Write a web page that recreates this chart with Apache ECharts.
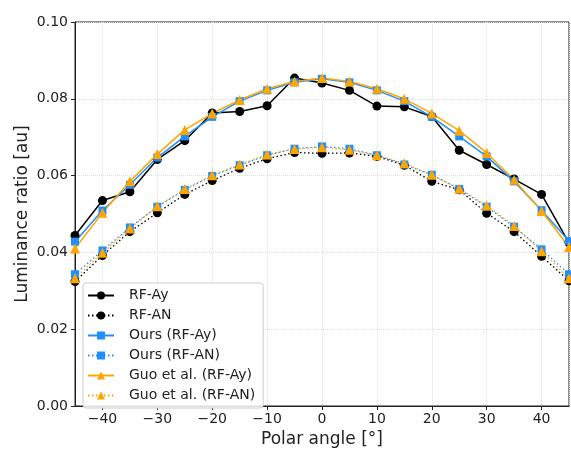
<!DOCTYPE html>
<html>
<head>
<meta charset="utf-8">
<script src="https://cdn.jsdelivr.net/npm/echarts@6/dist/echarts.min.js"></script>
<style>html,body{margin:0;padding:0;background:#fff;}#c{width:571px;height:453px;}</style>
</head>
<body>
<div id="c"></div>
<script>
const angles = [-45,-40,-35,-30,-25,-20,-15,-10,-5,0,5,10,15,20,25,30,35,40,45];
const rfAy   = [0.0444,0.0535,0.0558,0.0642,0.0691,0.0763,0.0767,0.0782,0.0854,0.0841,0.0822,0.0781,0.0779,0.0754,0.0666,0.0629,0.0591,0.0551,0.0425];
const rfAN   = [0.0324,0.0392,0.0454,0.0503,0.0551,0.0587,0.0619,0.0644,0.0660,0.0658,0.0659,0.0650,0.0627,0.0585,0.0563,0.0502,0.0454,0.0390,0.0326];
const oursAy = [0.0428,0.0509,0.0576,0.0647,0.0702,0.0753,0.0794,0.0822,0.0843,0.0852,0.0843,0.0822,0.0794,0.0753,0.0702,0.0650,0.0585,0.0510,0.0430];
const oursAN = [0.0343,0.0405,0.0465,0.0519,0.0563,0.0599,0.0627,0.0653,0.0670,0.0676,0.0670,0.0653,0.0629,0.0602,0.0565,0.0519,0.0467,0.0408,0.0343];
const guoAy  = [0.0410,0.0503,0.0585,0.0656,0.0719,0.0762,0.0797,0.0826,0.0845,0.0854,0.0845,0.0826,0.0800,0.0762,0.0717,0.0659,0.0589,0.0508,0.0414];
const guoAN  = [0.0333,0.0399,0.0462,0.0520,0.0565,0.0601,0.0629,0.0655,0.0669,0.0674,0.0667,0.0653,0.0632,0.0602,0.0566,0.0522,0.0469,0.0403,0.0333];
const yTicks = [0, 0.02, 0.04, 0.06, 0.08, 0.10];

const BLACK = '#000000', BLUE = '#1E8FFF', ORANGE = '#FFA500';
const FONT = 'DejaVu Sans';
function pair(xs, ys){ return xs.map((x,i)=>[x, ys[i]]); }
function mk(name, ys, color, symbol, size, dotted){
  return {
    name, type:'line', data: pair(angles, ys), symbol, symbolSize: size,
    itemStyle:{color},
    lineStyle: dotted ? {color, width:1.3, type:[1.5, 2.5]} : {color, width:1.5, type:'solid'},
    emphasis:{disabled:true}, animation:false
  };
}
const chart = echarts.init(document.getElementById('c'), null, {renderer:'canvas'});
chart.setOption({
  animation:false,
  textStyle:{fontFamily:FONT},
  grid:{left:75, right:2, top:22, bottom:40, show:true, borderColor:'#222', borderWidth:1, backgroundColor:'transparent'},
  xAxis:{
    type:'value', min:-45, max:45, splitNumber:9,
    name:'Polar angle [°]', nameLocation:'middle', nameGap:25,
    nameTextStyle:{fontFamily:FONT, fontSize:17, color:'#222'},
    axisLine:{show:true, onZero:false, lineStyle:{color:'#222', width:1}},
    axisTick:{show:true, inside:false, length:4, lineStyle:{color:'#222'}},
    axisLabel:{fontFamily:FONT, fontSize:14, color:'#222', margin:6, showMinLabel:false, showMaxLabel:false,
      formatter:v=> (v<0 ? '\u2212'+Math.abs(v) : String(v))},
    splitLine:{show:true, lineStyle:{color:'#dddddd', type:'dotted', width:1}}
  },
  yAxis:{
    type:'value', min:0, max:0.1, interval:0.02,
    name:'Luminance ratio [au]', nameLocation:'middle', nameGap:44, nameMoveOverlap:false,
    nameTextStyle:{fontFamily:FONT, fontSize:17, color:'#222'},
    axisLine:{show:true, onZero:false, lineStyle:{color:'#222', width:1}},
    axisTick:{show:true, inside:false, length:4, lineStyle:{color:'#222'}},
    axisLabel:{fontFamily:FONT, fontSize:14, color:'#222', margin:7, formatter:v=>v.toFixed(2)},
    splitLine:{show:true, lineStyle:{color:'#dddddd', type:'dotted', width:1}}
  },
  legend:{
    orient:'vertical', left:83, top:283, itemWidth:26, itemHeight:10, itemGap:5,
    padding:[5,8,5,4], borderColor:'#cccccc', borderWidth:1, borderRadius:3,
    backgroundColor:'rgba(255,255,255,0.85)',
    textStyle:{fontFamily:FONT, fontSize:14, lineHeight:15, color:'#222', padding:[0,0,0,10]},
    data:['RF-Ay','RF-AN','Ours (RF-Ay)','Ours (RF-AN)','Guo et al. (RF-Ay)','Guo et al. (RF-AN)']
  },
  series:[
    mk('RF-Ay', rfAy, BLACK, 'circle', 9, false),
    mk('RF-AN', rfAN, BLACK, 'circle', 9, true),
    mk('Ours (RF-Ay)', oursAy, BLUE, 'rect', 8, false),
    mk('Ours (RF-AN)', oursAN, BLUE, 'rect', 8, true),
    mk('Guo et al. (RF-Ay)', guoAy, ORANGE, 'triangle', 10, false),
    mk('Guo et al. (RF-AN)', guoAN, ORANGE, 'triangle', 10, true)
  ]
});
</script>
</body>
</html>
